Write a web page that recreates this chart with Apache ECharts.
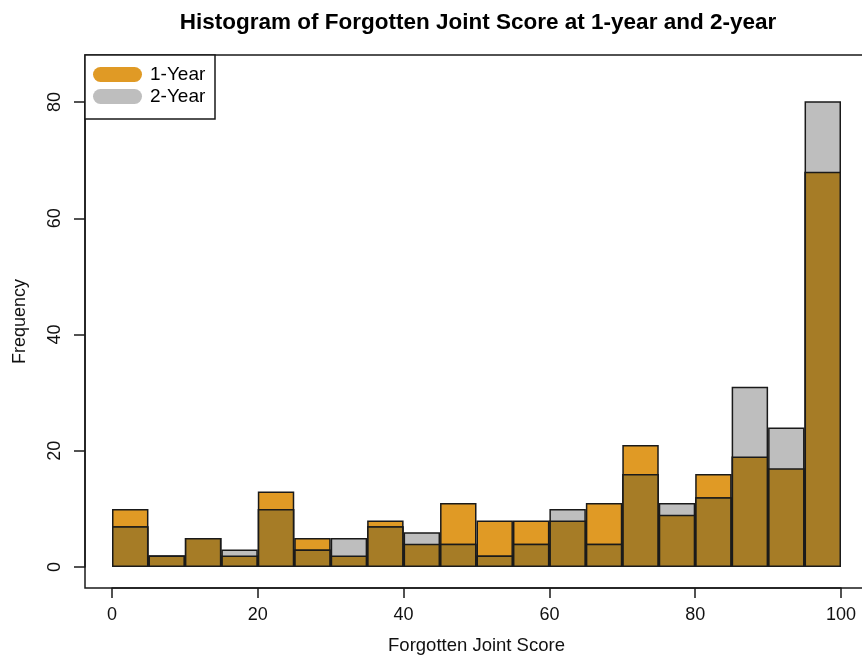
<!DOCTYPE html>
<html>
<head>
<meta charset="utf-8">
<script src="https://cdn.jsdelivr.net/npm/echarts@6/dist/echarts.min.js"></script>
<style>html,body{margin:0;padding:0;background:#fff}#c{width:862px;height:656px}</style>
</head>
<body>
<div id="c"></div>
<script>
// Bins of width 5 from 0 to 100
const binLabels = ['0-5','5-10','10-15','15-20','20-25','25-30','30-35','35-40','40-45','45-50',
                   '50-55','55-60','60-65','65-70','70-75','75-80','80-85','85-90','90-95','95-100'];
const year1 = [10, 2, 5, 2, 13, 5, 2, 8, 4, 11, 8, 8, 8, 11, 21, 9, 16, 19, 17, 68];
const year2 = [7, 2, 5, 3, 10, 3, 5, 7, 6, 4, 2, 4, 10, 4, 16, 11, 12, 31, 24, 81];
const xTicks = [0, 20, 40, 60, 80, 100];
const yTicks = [0, 20, 40, 60, 80];

const overlap = year1.map((v, i) => Math.min(v, year2[i]));

const ORANGE = '#E09A25', GRAY = '#BEBEBE', BROWN = '#A67C26', EDGE = '#1a1a1a';
const FONT = 'Liberation Sans, Arial, sans-serif';
const PILL = 'path://M7.5,0 L41.5,0 A7.5,7.5 0 0 1 41.5,15 L7.5,15 A7.5,7.5 0 0 1 7.5,0 Z';

const chart = echarts.init(document.getElementById('c'), null, {renderer: 'canvas'});
chart.setOption({
  backgroundColor: '#fff',
  animation: false,
  title: {
    text: 'Histogram of Forgotten Joint Score at 1-year and 2-year',
    left: 473, top: 6, textAlign: 'center',
    textStyle: {fontFamily: FONT, fontWeight: 'bold', fontSize: 22.5, color: '#000'}
  },
  graphic: [{
    type: 'rect', z: 1,
    shape: {x: 85, y: 55, width: 130, height: 64},
    style: {fill: '#fff', stroke: EDGE, lineWidth: 1.5}
  }],
  legend: {
    z: 5,
    orient: 'vertical', left: 88, top: 60, itemGap: 3,
    itemWidth: 49, itemHeight: 15, icon: PILL,
    data: ['1-Year', '2-Year'],
    itemStyle: {borderWidth: 0},
    textStyle: {fontFamily: FONT, fontSize: 19, lineHeight: 19, color: '#000', padding: [0, 0, 0, 3]}
  },
  grid: [
    {left: 112, right: 21, top: 102, bottom: 89, containLabel: false, outerBoundsMode: 'none'},
    {left: 85, right: -40, top: 55, bottom: 68, show: true, borderColor: EDGE, borderWidth: 1.5,
     backgroundColor: 'transparent', z: 0, containLabel: false, outerBoundsMode: 'none'}
  ],
  xAxis: [
    {type: 'category', gridIndex: 0, data: binLabels, boundaryGap: true, show: false},
    {type: 'value', gridIndex: 0, min: 0, max: 100, interval: 20, position: 'bottom', offset: 21,
     axisLine: {show: true, onZero: false, lineStyle: {color: EDGE, width: 1.5}}, splitLine: {show: false},
     axisTick: {show: true, length: 10, lineStyle: {color: EDGE, width: 1.5}},
     axisLabel: {margin: 18, fontFamily: FONT, fontSize: 18, color: '#111', customValues: xTicks},
     name: 'Forgotten Joint Score', nameLocation: 'middle', nameGap: 48,
     nameTextStyle: {fontFamily: FONT, fontSize: 18.5, color: '#111'}},
    {type: 'value', gridIndex: 1, min: 0, max: 1, axisLine: {show: false}, axisTick: {show: false},
     axisLabel: {show: false}, splitLine: {show: false}}
  ],
  yAxis: [
    {type: 'value', gridIndex: 0, min: 0, max: 80, interval: 20, offset: 27,
     axisLine: {show: true, onZero: false, lineStyle: {color: EDGE, width: 1.5}}, splitLine: {show: false},
     axisTick: {show: true, length: 11, lineStyle: {color: EDGE, width: 1.5}},
     axisLabel: {rotate: 90, margin: 21, fontFamily: FONT, fontSize: 18, color: '#111', customValues: yTicks}},
    {type: 'value', gridIndex: 1, min: 0, max: 1, axisLine: {show: false}, axisTick: {show: false},
     axisLabel: {show: false}, splitLine: {show: false},
     name: 'Frequency', nameLocation: 'middle', nameGap: 56,
     nameTextStyle: {fontFamily: FONT, fontSize: 18, color: '#111'}}
  ],
  series: [
    {name: '1-Year', type: 'bar', xAxisIndex: 0, yAxisIndex: 0, data: year1,
     barWidth: '100%', barGap: '-100%', barCategoryGap: 0, color: ORANGE,
     itemStyle: {color: ORANGE, borderColor: EDGE, borderWidth: 1.5}},
    {name: '2-Year', type: 'bar', xAxisIndex: 0, yAxisIndex: 0, data: year2,
     barWidth: '100%', barGap: '-100%', color: GRAY,
     itemStyle: {color: GRAY, borderColor: EDGE, borderWidth: 1.5}},
    {name: 'Both', type: 'bar', xAxisIndex: 0, yAxisIndex: 0, data: overlap,
     barWidth: '100%', barGap: '-100%', color: BROWN,
     itemStyle: {color: BROWN, borderColor: EDGE, borderWidth: 1.5}}
  ]
});
</script>
</body>
</html>
